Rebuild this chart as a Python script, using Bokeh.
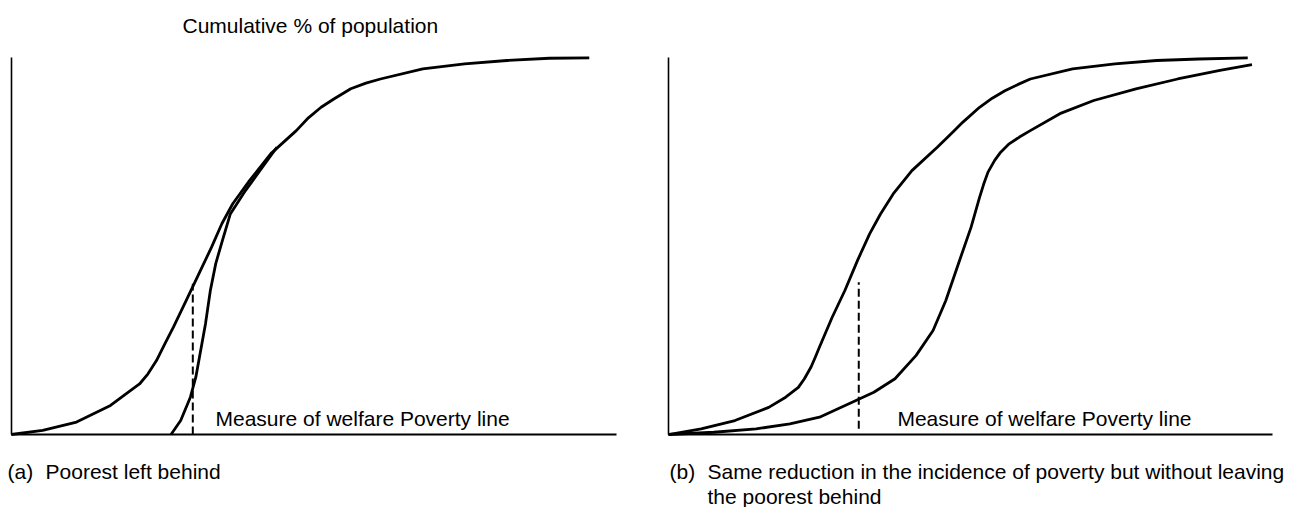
from bokeh.plotting import figure
from bokeh.layouts import row
from bokeh.models import Range1d, Label, FixedTicker
from bokeh.embed import file_html
from bokeh.resources import INLINE

# ---------------- data ----------------
# x: measure of welfare (0-100 along axis), y: cumulative % of population
# Panel (a): poorest left behind
a_curve1_x = [0, 5.2, 10.8, 16.4, 21.2, 22.6, 24.0, 25.4, 26.8, 28.9, 31.0, 33.1, 34.8, 36.6,
              39.4, 42.9, 47.1, 49.1, 51.2, 53.3, 56.1, 58.6, 61.0, 68.0, 74.9, 81.9, 88.9, 95.5]
a_curve1_y = [0, 1.1, 3.3, 7.7, 13.4, 16.1, 19.6, 24.1, 28.5, 35.5, 42.6, 49.7, 55.9, 61.2,
              67.4, 74.5, 80.6, 84.0, 86.8, 89.0, 91.7, 93.2, 94.3, 97.0, 98.3, 99.2, 99.8, 99.9]
a_curve2_x = [26.4, 28.0, 29.6, 30.5, 31.3, 32.1, 32.9, 33.8, 34.9, 36.2, 38.7, 41.5, 43.9]
a_curve2_y = [0, 3.7, 9.9, 15.2, 22.3, 29.4, 38.2, 45.4, 51.5, 58.5, 64.7, 70.9, 76.2]
a_poverty_line_x = [30.0]
a_poverty_line_y0 = [0.0]
a_poverty_line_y1 = [40.0]

# Panel (b): same reduction in poverty without leaving the poorest behind
b_curve1_x = [0, 5.4, 11.0, 16.6, 19.4, 21.5, 22.5, 23.6, 24.3, 25.0, 27.1, 29.2, 31.3, 33.3, 35.1,
              37.2, 40.3, 44.5, 47.3, 48.7, 51.5, 53.6, 55.7, 57.8, 59.9, 66.9, 73.9, 80.8, 87.8, 95.9]
b_curve1_y = [0, 1.5, 3.7, 7.2, 9.9, 12.5, 14.8, 17.9, 20.5, 23.2, 31.1, 38.2, 46.2, 53.2, 58.5,
              63.8, 70.0, 76.2, 80.6, 82.8, 86.8, 89.2, 91.2, 92.8, 94.3, 97.0, 98.3, 99.2, 99.6, 99.9]
b_curve2_x = [0, 7.5, 14.5, 20.1, 25.0, 30.5, 34.0, 37.5, 41.0, 43.8, 45.9, 48.0,
              50.1, 51.5, 52.2, 52.9, 54.0, 55.0, 56.4, 58.1, 59.9, 64.8, 70.4, 77.4, 84.3, 91.3, 96.6]
b_curve2_y = [0, 0.6, 1.5, 2.8, 4.6, 8.6, 11.2, 14.8, 21.0, 27.6, 35.5, 45.3,
              55.0, 62.9, 66.5, 69.6, 72.7, 74.9, 77.1, 78.9, 80.6, 85.1, 88.6, 91.7, 94.3, 96.6, 98.1]
b_poverty_line_x = [31.5]
b_poverty_line_y0 = [1.5]
b_poverty_line_y1 = [40.4]

axis_bounds = (0, 100)

title_text = "Cumulative % of population"
xlabel_text = "Measure of welfare Poverty line"
cap_a_tag, cap_a_text = "(a)", "Poorest left behind"
cap_b_tag = "(b)"
cap_b_line1 = "Same reduction in the incidence of poverty but without leaving"
cap_b_line2 = "the poorest behind"

FONT = "Liberation Sans"
FS = "21px"
Y_RANGE = (-19.36, 115.12)


def make_fig(width, x_range):
    p = figure(width=width, height=507, x_range=Range1d(*x_range), y_range=Range1d(*Y_RANGE),
               output_backend="svg", toolbar_location=None,
               min_border_left=0, min_border_right=0,
               min_border_top=0, min_border_bottom=0)
    p.grid.visible = False
    p.outline_line_color = None
    p.background_fill_color = "white"
    p.border_fill_color = "white"
    for ax in (p.xaxis, p.yaxis):
        ax.ticker = FixedTicker(ticks=[])
        ax.major_tick_line_color = None
        ax.minor_tick_line_color = None
        ax.major_label_text_font_size = "0px"
        ax.major_label_standoff = 0
        ax.axis_line_color = "black"
        ax.bounds = axis_bounds
        ax.fixed_location = 0
    p.xaxis.axis_line_width = 2
    p.yaxis.axis_line_width = 1.6
    return p


def add_text(p, x, y, text):
    p.add_layout(Label(x=x, y=y, text=text, text_font=FONT, text_font_size=FS,
                       text_color="black", text_baseline="middle", text_align="left"))


LW = 2.8

# ---------------- panel (a) ----------------
pa = make_fig(658, (-1.77, 106.94))
pa.line(a_curve1_x, a_curve1_y, line_color="black", line_width=LW, line_join="round")
pa.line(a_curve2_x, a_curve2_y, line_color="black", line_width=LW, line_join="round")
pa.segment(x0=a_poverty_line_x, y0=a_poverty_line_y0, x1=a_poverty_line_x, y1=a_poverty_line_y1,
           line_color="black", line_width=2, line_dash="8 4")
add_text(pa, 28.3, 108.5, title_text)
add_text(pa, 33.75, 4.2, xlabel_text)
add_text(pa, -0.6, -9.8, cap_a_tag)
add_text(pa, 5.67, -9.8, cap_a_text)

# ---------------- panel (b) ----------------
pb = make_fig(650, (-1.656, 105.96))
pb.line(b_curve1_x, b_curve1_y, line_color="black", line_width=LW, line_join="round")
pb.line(b_curve2_x, b_curve2_y, line_color="black", line_width=LW, line_join="round")
pb.segment(x0=b_poverty_line_x, y0=b_poverty_line_y0, x1=b_poverty_line_x, y1=b_poverty_line_y1,
           line_color="black", line_width=2, line_dash="8 4")
add_text(pb, 37.9, 4.2, xlabel_text)
add_text(pb, 0.17, -9.8, cap_b_tag)
add_text(pb, 6.46, -9.8, cap_b_line1)
add_text(pb, 6.46, -16.4, cap_b_line2)

layout = row(pa, pb)
open("out.html", "w").write(file_html(layout, INLINE))
